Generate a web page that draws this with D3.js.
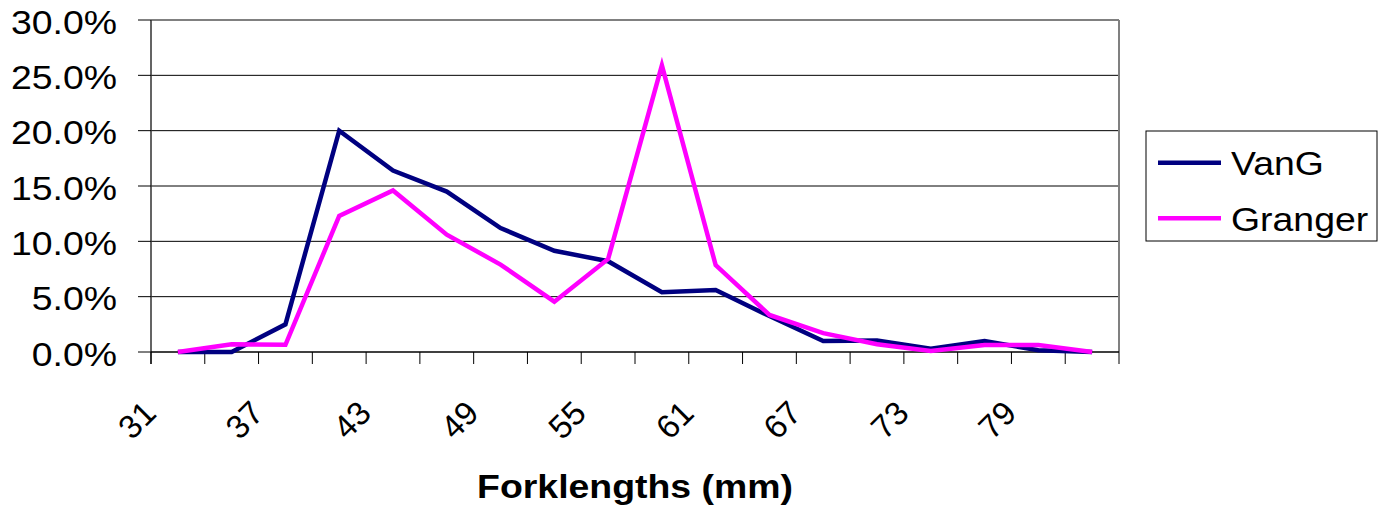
<!DOCTYPE html>
<html>
<head>
<meta charset="utf-8">
<script src="https://cdn.jsdelivr.net/npm/d3@7"></script>
<style>
  html, body { margin: 0; padding: 0; background: #fff; }
  svg { display: block; }
  text { font-family: "Liberation Sans", Arial, sans-serif; fill: #000; }
</style>
</head>
<body>
<svg id="chart" width="1379" height="509"></svg>
<script>
const categories = [31, 34, 37, 40, 43, 46, 49, 52, 55, 58, 61, 64, 67, 70, 73, 76, 79, 82];
const vanG    = [0.0, 0.0, 2.5, 20.0, 16.4, 14.5, 11.2, 9.15, 8.2, 5.4, 5.6, 3.25, 1.0, 1.05, 0.3, 1.0, 0.15, 0.0];
const granger = [0.0, 0.7, 0.65, 12.3, 14.6, 10.6, 7.9, 4.55, 8.4, 25.9, 7.85, 3.35, 1.7, 0.7, 0.1, 0.63, 0.63, 0.0];
const xTickLabels = [31, 37, 43, 49, 55, 61, 67, 73, 79];
const yTicks = [0, 5, 10, 15, 20, 25, 30];
const seriesNames = ["VanG", "Granger"];
const seriesColors = ["#000080", "#FF00FF"];
const xTitle = "Forklengths (mm)";

const svg = d3.select("#chart");
const pLeft = 151, pRight = 1119, pTop = 20, pBottom = 352;
const SX = 1.1; // slight horizontal stretch seen in the reference text

const x = d3.scaleBand().domain(categories).range([pLeft, pRight]).padding(0);
const y = d3.scaleLinear().domain([0, 30]).range([pBottom, pTop]);
const cx = c => x(c) + x.bandwidth() / 2;

// gridlines
svg.append("g").selectAll("line").data(yTicks.filter(t => t > 0 && t < 30)).join("line")
  .attr("x1", pLeft).attr("x2", pRight)
  .attr("y1", d => y(d)).attr("y2", d => y(d))
  .attr("stroke", "#000").attr("stroke-width", 1);

// plot border top/right
svg.append("line").attr("x1", pLeft).attr("x2", pRight).attr("y1", y(30)).attr("y2", y(30))
  .attr("stroke", "#808080").attr("stroke-width", 2);
svg.append("line").attr("x1", pRight).attr("x2", pRight).attr("y1", pTop).attr("y2", pBottom)
  .attr("stroke", "#808080").attr("stroke-width", 2);

// y axis
svg.append("line").attr("x1", pLeft).attr("x2", pLeft).attr("y1", pTop).attr("y2", pBottom + 12)
  .attr("stroke", "#303030").attr("stroke-width", 1.5);
svg.append("g").selectAll("line").data(yTicks).join("line")
  .attr("x1", pLeft - 13).attr("x2", pLeft)
  .attr("y1", d => y(d)).attr("y2", d => y(d))
  .attr("stroke", "#000").attr("stroke-width", 1);
svg.append("g").selectAll("text").data(yTicks).join("text")
  .attr("transform", d => `translate(117,${y(d) + 13.5}) scale(${SX},1)`)
  .attr("text-anchor", "end")
  .attr("font-size", 34)
  .text(d => d.toFixed(1) + "%");

// x axis
svg.append("line").attr("x1", pLeft).attr("x2", pRight).attr("y1", pBottom).attr("y2", pBottom)
  .attr("stroke", "#000").attr("stroke-width", 1.5);
const boundaries = categories.map(c => x(c)).concat([pRight]);
svg.append("g").selectAll("line").data(boundaries).join("line")
  .attr("x1", d => d).attr("x2", d => d)
  .attr("y1", pBottom).attr("y2", pBottom + 12)
  .attr("stroke", "#000").attr("stroke-width", 1);
svg.append("g").selectAll("text").data(xTickLabels).join("text")
  .attr("transform", d => `translate(${cx(d) - 20},415) rotate(-45)`)
  .attr("text-anchor", "end")
  .attr("font-size", 33)
  .text(d => d);

// x title
svg.append("text")
  .attr("transform", `translate(${(pLeft + pRight) / 2},498) scale(${SX},1)`)
  .attr("text-anchor", "middle")
  .attr("font-size", 34)
  .attr("font-weight", "bold")
  .text(xTitle);

// lines
const line = d3.line().x((d, i) => cx(categories[i])).y(d => y(d));
[vanG, granger].forEach((s, k) => {
  svg.append("path").datum(s)
    .attr("d", line)
    .attr("fill", "none")
    .attr("stroke", seriesColors[k])
    .attr("stroke-width", 4.5)
    .attr("stroke-linejoin", "miter");
});

// legend
const lg = svg.append("g");
lg.append("rect").attr("x", 1146).attr("y", 131).attr("width", 231).attr("height", 110)
  .attr("fill", "#fff").attr("stroke", "#000").attr("stroke-width", 1);
const legendY = [162.7, 218.3];
seriesNames.forEach((n, k) => {
  lg.append("line").attr("x1", 1158).attr("x2", 1221)
    .attr("y1", legendY[k]).attr("y2", legendY[k])
    .attr("stroke", seriesColors[k]).attr("stroke-width", 4.5);
  lg.append("text")
    .attr("transform", `translate(1231,${legendY[k] + 12.5}) scale(${SX},1)`)
    .attr("font-size", 34)
    .text(n);
});
</script>
</body>
</html>
